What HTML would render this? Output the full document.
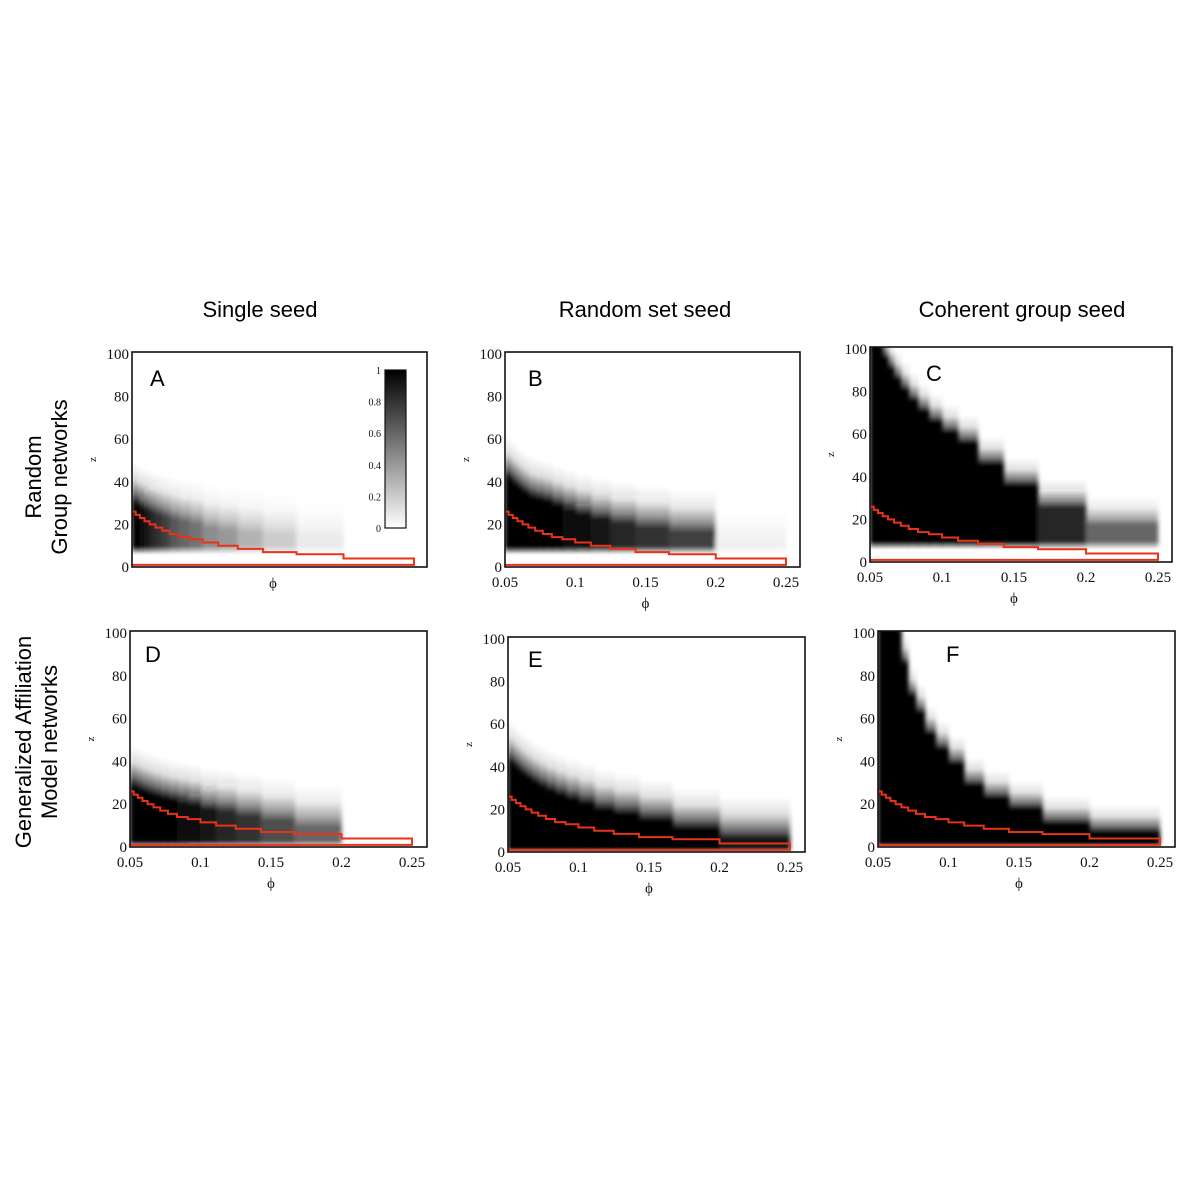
<!DOCTYPE html>
<html><head><meta charset="utf-8"><style>
html,body{margin:0;padding:0;background:#fff;}
svg{display:block;}
.tk{font-family:"Liberation Serif",serif;font-size:15px;fill:#111;}
.hd{font-family:"Liberation Sans",sans-serif;font-size:22px;fill:#000;}
.lt{font-family:"Liberation Sans",sans-serif;font-size:22px;fill:#000;}
</style></head><body>
<svg id="fig" width="1200" height="1199" viewBox="0 0 1200 1199">
<defs>
<linearGradient id="cbar" x1="0" y1="0" x2="0" y2="1"><stop offset="0" stop-color="#000"/><stop offset="1" stop-color="#fff"/></linearGradient>
<filter id="soft" x="-5%" y="-5%" width="110%" height="110%"><feGaussianBlur stdDeviation="2.2 1"/></filter>
</defs>
<text class="hd" x="260" y="317" text-anchor="middle">Single seed</text>
<text class="hd" x="645" y="317" text-anchor="middle">Random set seed</text>
<text class="hd" x="1022" y="317" text-anchor="middle">Coherent group seed</text>
<g transform="translate(45,477) rotate(-90)">
<text class="hd" x="0" y="-4" text-anchor="middle">Random</text>
<text class="hd" x="0" y="22" text-anchor="middle">Group networks</text></g>
<g transform="translate(35,742) rotate(-90)">
<text class="hd" x="0" y="-4" text-anchor="middle">Generalized Affiliation</text>
<text class="hd" x="0" y="22" text-anchor="middle">Model networks</text></g>
</svg>
<script>
// group sizes m -> columns span phi in [1/m, 1/(m-1)]
const groupSizes = [20,19,18,17,16,15,14,13,12,11,10,9,8,7,6,5];
const thresholdZ = [26,24.5,23,21.5,20,18.5,17,15.5,14,13,11.5,10,8.5,7,6,4];
const xTicks = [0.05,0.1,0.15,0.2,0.25];
const xTickLabels = ["0.05","0.1","0.15","0.2","0.25"];
const yTicks = [0,20,40,60,80,100];
const topA = [30,28,27,26,25,24,23,22,21,20,18,17,16,15,14,0];
const valA = [1,1,0.95,0.9,0.85,0.8,0.75,0.65,0.6,0.55,0.45,0.4,0.3,0.2,0.08,0];
const topB = [42,40,38,36,34,32,31,30,28,26,24,22,20,18,16,12];
const valB = [1,1,1,1,1,1,1,1,1,0.97,0.95,0.9,0.85,0.8,0.75,0.06];
const topC = [110,110,100,95,90,85,80,75,70,65,60,55,45,35,25,17];
const valC = [1,1,1,1,1,1,1,1,1,1,1,1,1,1,0.85,0.6];
const topD = [28,27,26,25,24,23,22,21,20,19,17,16,14,12,9,0];
const valD = [1,1,1,1,1,1,1,1,0.97,0.95,0.9,0.85,0.8,0.7,0.6,0];
const topE = [42,40,38,36,34,32,30,28,26,24,22,19,17,14,10,6];
const valE = [1,1,1,1,1,1,1,1,1,1,1,1,1,1,1,0.9];
const topF = [110,110,110,105,100,85,70,62,52,45,38,28,22,17,10,6];
const valF = [1,1,1,1,1,1,1,1,1,1,1,1,1,1,1,1];

const panels = [
 {id:'a',letter:'A',lx:150,ly:386,L:132,T:352,R:427,B:567,x25:414,y100:354,top:topA,val:valA,zBot:10,fade:20,xlabels:false,cbar:true},
 {id:'b',letter:'B',lx:528,ly:386,L:505,T:352,R:800,B:567,x25:786,y100:354,top:topB,val:valB,zBot:10,fade:20,xlabels:true},
 {id:'c',letter:'C',lx:926,ly:381,L:870,T:347,R:1172,B:562,x25:1158,y100:349,top:topC,val:valC,zBot:10,fade:14,xlabels:true},
 {id:'d',letter:'D',lx:145,ly:662,L:130,T:631,R:427,B:847,x25:412,y100:633,top:topD,val:valD,zBot:3,fade:20,xlabels:true},
 {id:'e',letter:'E',lx:528,ly:667,L:508,T:637,R:805,B:852,x25:790,y100:639,top:topE,val:valE,zBot:2,fade:20,xlabels:true},
 {id:'f',letter:'F',lx:946,ly:662,L:878,T:631,R:1175,B:847,x25:1160,y100:633,top:topF,val:valF,zBot:2,fade:14,xlabels:true}
];
const NS='http://www.w3.org/2000/svg';
const svg=document.getElementById('fig');
const defs=svg.querySelector('defs');
function mk(tag,attrs,parent){const e=document.createElementNS(NS,tag);for(const k in attrs)e.setAttribute(k,attrs[k]);(parent||svg).appendChild(e);return e;}
let gid=0;
panels.forEach(p=>{
  const xs=phi=>p.L+(phi-0.05)/0.2*(p.x25-p.L);
  const ys=z=>p.B-z/100*(p.B-p.y100);
  const g=mk('g',{});
  
  
  const cp=mk('clipPath',{id:'clip'+p.id},defs);
  mk('rect',{x:p.L,y:p.T,width:p.R-p.L,height:p.B-p.T},cp);
  const outer=mk('g',{'clip-path':'url(#clip'+p.id+')'},g);
  const hg=mk('g',{filter:'url(#soft)'},outer);
  
  
  groupSizes.forEach((m,i)=>{
    const v=p.val[i], top=p.top[i];
    if(v<=0||top<=p.zBot) return;
    const x0=xs(1/m), x1=xs(1/(m-1));
    const zLo=Math.max(0,p.zBot-4), zHi=top+p.fade;
    const yTop=ys(zHi), yBot=ys(zLo), h=yBot-yTop;
    const id='hg'+(gid++);
    const lg=mk('linearGradient',{id:id,x1:0,y1:0,x2:0,y2:1},defs);
    const c=Math.round(255*(1-v));
    const col='rgb('+c+','+c+','+c+')';
    const oTop=(ys(top)-yTop)/h, oBot=(ys(p.zBot)-yTop)/h;
    mk('stop',{offset:0,'stop-color':col,'stop-opacity':0},lg);
    mk('stop',{offset:oTop*0.4,'stop-color':col,'stop-opacity':0.12},lg);
    mk('stop',{offset:oTop*0.75,'stop-color':col,'stop-opacity':0.55},lg);
    mk('stop',{offset:oTop,'stop-color':col,'stop-opacity':1},lg);
    mk('stop',{offset:oBot,'stop-color':col,'stop-opacity':1},lg);
    mk('stop',{offset:1,'stop-color':col,'stop-opacity':0},lg);
    const r=mk('rect',{x:x0-0.3,y:yTop,width:x1-x0+0.6,height:h,fill:'url(#'+id+')'},hg);
    
    
  });
  let d='M'+xs(0.05)+','+ys(thresholdZ[0]);
  groupSizes.forEach((m,i)=>{
    const x0=xs(1/m), x1=xs(1/(m-1));
    d+=' L'+x0+','+ys(thresholdZ[i])+' L'+x1+','+ys(thresholdZ[i]);
  });
  d+=' L'+xs(0.25)+','+ys(1)+' L'+xs(0.05)+','+ys(1);
  const rp=mk('path',{d:d,fill:'none',stroke:'#e8321a','stroke-width':2},g);
  
  
  const fr=mk('rect',{x:p.L,y:p.T,width:p.R-p.L,height:p.B-p.T,fill:'none',stroke:'#111','stroke-width':1.6},g);
  
  
  yTicks.forEach(t=>{
    const tx=mk('text',{x:p.L-3,y:ys(t)+5,'text-anchor':'end',class:'tk'},g);
    tx.textContent=t;
    
    
  });
  if(p.xlabels){
    xTicks.forEach((t,i)=>{
      const tx=mk('text',{x:xs(t),y:p.B+20,'text-anchor':'middle',class:'tk'},g);
      tx.textContent=xTickLabels[i];
      
      
    });
  }
  const xl=mk('text',{x:(p.L+p.x25)/2,y:p.B+(p.xlabels?41:21),'text-anchor':'middle',class:'tk'},g);
  xl.textContent='ϕ';
  
  
  const zl=mk('text',{x:0,y:0,'text-anchor':'middle',class:'tk',style:'font-size:11px',transform:'translate('+(p.L-36)+','+((p.T+p.B)/2)+') rotate(-90)'},g);
  zl.textContent='z';
  
  
  const lt=mk('text',{x:p.lx,y:p.ly,class:'lt'},g);
  lt.textContent=p.letter;
  
  
  if(p.cbar){
    const cb=mk('g',{},g);
    
    
    mk('rect',{x:385,y:370,width:21,height:158,fill:'url(#cbar)',stroke:'#111','stroke-width':1.2},cb);
    [0,0.2,0.4,0.6,0.8,1].forEach(v=>{
      const y=528-v*158;
      const t=mk('text',{x:381,y:y+4,'text-anchor':'end',class:'tk',style:'font-size:10px'},cb);
      t.textContent=v;
      
      
    });
  }
});
</script>
</body></html>
